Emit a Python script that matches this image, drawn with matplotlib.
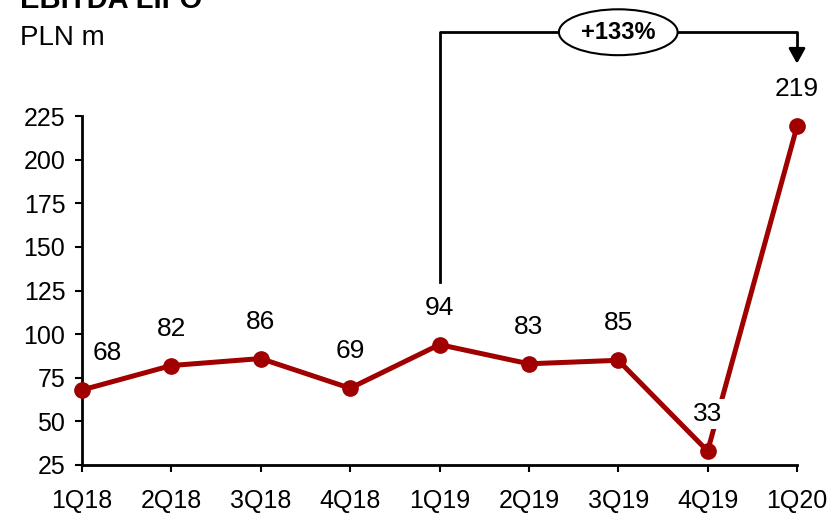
import matplotlib
matplotlib.use("Agg")
import matplotlib.pyplot as plt

categories = ["1Q18", "2Q18", "3Q18", "4Q18", "1Q19", "2Q19", "3Q19", "4Q19", "1Q20"]
values = [68, 82, 86, 69, 94, 83, 85, 33, 219]
yticks = [25, 50, 75, 100, 125, 150, 175, 200, 225]
change_label = "+133%"

plt.rcParams['font.family'] = ['Liberation Sans Narrow', 'Liberation Sans', 'DejaVu Sans']

fig = plt.figure(figsize=(8.3, 5.17), dpi=100)
ax = fig.add_axes([82/830, (517-465)/517, (797-82)/830, (465-116)/517])

red = '#A00000'
x = list(range(len(categories)))
ax.plot(x, values, color=red, lw=3.6, marker='o', ms=11, clip_on=False, zorder=3,
        solid_joinstyle='round')

ax.set_xlim(0, len(categories) - 1)
ax.set_ylim(25, 225)
ax.set_yticks(yticks)
ax.set_xticks(x)
ax.set_xticklabels(categories)
ax.tick_params(axis='both', labelsize=18, length=5, width=1.5, direction='out', colors='black')
ax.tick_params(axis='x', pad=12)
ax.tick_params(axis='y', pad=7)
for s in ['top', 'right']:
    ax.spines[s].set_visible(False)
for s in ['left', 'bottom']:
    ax.spines[s].set_linewidth(2)

# data labels
for i, v in enumerate(values):
    dx = 25 if i == 0 else 0
    kw = {}
    if i == 7:
        kw['bbox'] = dict(boxstyle='square,pad=0.1', fc='white', ec='none')
    ax.annotate(str(v), (i, v), xytext=(dx, 37), textcoords='offset pixels',
                ha='center', va='center', fontsize=19, zorder=4, **kw)

# bracket showing change
y_top = 273
ax.plot([4, 4, 8, 8], [130, y_top, y_top, 262], color='black', lw=2, clip_on=False, zorder=2)
ax.annotate('', xy=(8, 255), xytext=(8, 264), xycoords='data',
            arrowprops=dict(arrowstyle='-|>,head_length=0.9,head_width=0.5', color='black', lw=2,
                            shrinkA=0, shrinkB=0), annotation_clip=False)
ax.text(6, y_top, change_label, ha='center', va='center', fontsize=17, fontweight='bold',
        bbox=dict(boxstyle='ellipse,pad=0.2', fc='white', ec='black', lw=1.5), zorder=5, clip_on=False)

fig.text(20/830, 509/517, "EBITDA LIFO", fontsize=21, fontweight='bold', ha='left', va='baseline')
fig.text(20/830, 1 - 38/517, "PLN m", fontsize=20, ha='left', va='center')

fig.savefig('out.png', dpi=100)
